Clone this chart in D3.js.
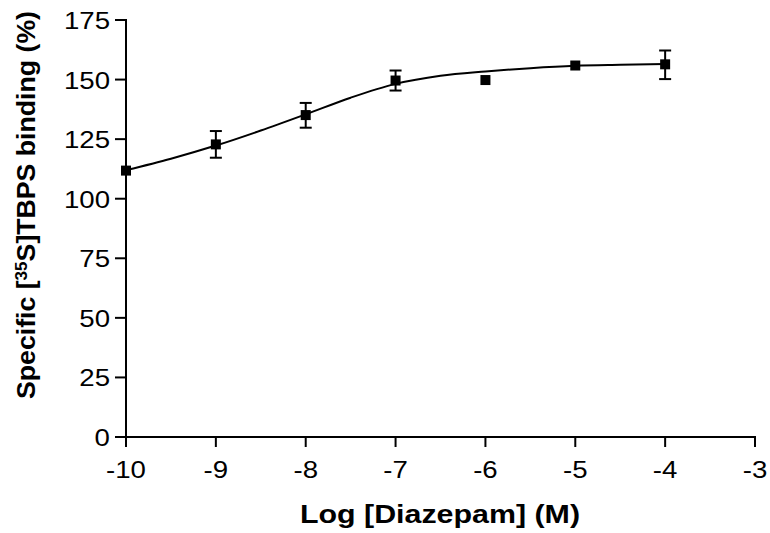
<!DOCTYPE html>
<html lang="en">
<head>
    <meta charset="UTF-8">
    <title>TBPS binding vs diazepam</title>
    <script src="https://d3js.org/d3.v7.min.js"></script>
    <style>
        body { margin: 0; background: #fff; }
        svg text { font-family: "Liberation Sans", Arial, sans-serif; fill: #000; }
        .tick-label { font-size: 24px; }
        .axis-title { font-size: 25px; font-weight: bold; }
    </style>
</head>
<body>
<svg width="770" height="533"></svg>
<script>
    // data
    const logDose = [-10, -9, -8, -7, -6, -5, -4];
    const binding = [111.8, 122.8, 135.1, 149.6, 149.8, 155.9, 156.4];
    const errLow  = [111.8, 117.2, 129.8, 145.4, 149.8, 155.9, 150.2];
    const errHigh = [111.8, 128.4, 140.2, 153.8, 149.8, 155.9, 162.2];

    // fitted curve, read at half-log steps
    const curveX = [-10, -9.5, -9, -8.5, -8, -7.5, -7, -6.5, -6, -5.5, -5, -4.5, -4];
    const curveY = [112, 116.8, 122.3, 128.6, 135.4, 142.4, 148.2, 151.6, 153.4, 154.8, 155.8, 156.2, 156.5];

    const xTicks = [-10, -9, -8, -7, -6, -5, -4, -3];
    const yTicks = [0, 25, 50, 75, 100, 125, 150, 175];

    const svg = d3.select("svg");
    const x = d3.scaleLinear().domain([-10, -3]).range([126, 755]);
    const y = d3.scaleLinear().domain([0, 175]).range([437, 20]);

    // the original lettering is a little wider than Liberation Sans
    function widen(sel, k) {
        sel.each(function() {
            const w = this.getComputedTextLength();
            d3.select(this).attr("textLength", w * k).attr("lengthAdjust", "spacingAndGlyphs");
        });
    }

    const axes = svg.append("g").attr("stroke", "#000").attr("stroke-width", 2);
    // y axis line + ticks
    axes.append("line").attr("x1", x(-10)).attr("x2", x(-10)).attr("y1", y(175) - 1).attr("y2", y(0) + 10);
    axes.selectAll(".yt").data(yTicks).enter().append("line")
        .attr("x1", x(-10) - 11).attr("x2", x(-10))
        .attr("y1", d => y(d)).attr("y2", d => y(d));
    // x axis line + ticks
    axes.append("line").attr("x1", x(-10) - 11).attr("x2", x(-3) + 1).attr("y1", y(0)).attr("y2", y(0));
    axes.selectAll(".xt").data(xTicks).enter().append("line")
        .attr("x1", d => x(d)).attr("x2", d => x(d))
        .attr("y1", y(0)).attr("y2", y(0) + 10);

    svg.selectAll(".ylab").data(yTicks).enter().append("text")
        .attr("class", "tick-label")
        .attr("x", x(-10) - 16).attr("y", d => y(d) + 9)
        .attr("text-anchor", "end")
        .text(d => d)
        .call(widen, 1.15);

    svg.selectAll(".xlab").data(xTicks).enter().append("text")
        .attr("class", "tick-label")
        .attr("x", d => x(d)).attr("y", 478)
        .attr("text-anchor", "middle")
        .text(d => d)
        .call(widen, 1.15);

    svg.append("text").attr("class", "axis-title")
        .attr("x", 440).attr("y", 523)
        .attr("text-anchor", "middle")
        .attr("textLength", 280).attr("lengthAdjust", "spacingAndGlyphs")
        .text("Log [Diazepam] (M)");

    const yt = svg.append("text").attr("class", "axis-title")
        .attr("transform", "translate(35,205) rotate(-90)")
        .attr("text-anchor", "middle")
        .attr("textLength", 388).attr("lengthAdjust", "spacingAndGlyphs");
    yt.append("tspan").text("Specific [");
    yt.append("tspan").attr("baseline-shift", "super").style("font-size", "16px").text("35");
    yt.append("tspan").text("S]TBPS binding (%)");

    // fitted curve
    const line = d3.line().x(d => x(d[0])).y(d => y(d[1])).curve(d3.curveMonotoneX);
    svg.append("path")
        .datum(d3.zip(curveX, curveY))
        .attr("d", line)
        .attr("fill", "none").attr("stroke", "#000").attr("stroke-width", 2);

    // error bars
    const pts = logDose.map((d, i) => ({ x: d, y: binding[i], lo: errLow[i], hi: errHigh[i] }));
    const eb = svg.append("g").attr("stroke", "#000").attr("stroke-width", 2);
    pts.filter(d => d.hi > d.lo).forEach(d => {
        eb.append("line").attr("x1", x(d.x)).attr("x2", x(d.x)).attr("y1", y(d.lo)).attr("y2", y(d.hi));
        eb.append("line").attr("x1", x(d.x) - 6).attr("x2", x(d.x) + 6).attr("y1", y(d.lo)).attr("y2", y(d.lo));
        eb.append("line").attr("x1", x(d.x) - 6).attr("x2", x(d.x) + 6).attr("y1", y(d.hi)).attr("y2", y(d.hi));
    });

    // markers
    svg.selectAll(".pt").data(pts).enter().append("rect")
        .attr("x", d => x(d.x) - 5).attr("y", d => y(d.y) - 5)
        .attr("width", 10).attr("height", 10)
        .attr("fill", "#000");
</script>
</body>
</html>
